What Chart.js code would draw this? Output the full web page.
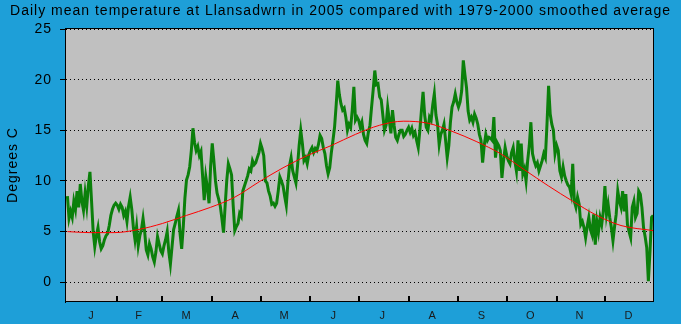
<!DOCTYPE html>
<html>
<head>
<meta charset="utf-8">
<title>Llansadwrn daily mean temperature 2005</title>
<script src="https://cdn.jsdelivr.net/npm/chart.js@4.4.0/dist/chart.umd.min.js"></script>
<style>
  html, body { margin: 0; padding: 0; background: #1e9fd8; }
  #chart { display: block; }
</style>
</head>
<body>
<canvas id="chart" width="681" height="324"></canvas>
<script>
const chartTitle =
  "Daily mean temperature at Llansadwrn in 2005 compared with 1979-2000 smoothed average";
const monthLabels = ["J", "F", "M", "A", "M", "J", "J", "A", "S", "O", "N", "D"];
const monthStarts = [0, 31, 59, 90, 120, 151, 181, 212, 243, 273, 304, 334];
const monthLengths = [31, 28, 31, 30, 31, 30, 31, 31, 30, 31, 30, 31];
const yTicks = [0, 5, 10, 15, 20, 25];

// 2005 daily mean temperature (deg C), 1 Jan .. 31 Dec
const dailyMean = [
  8.5, 6.3, 7.0, 6.4, 8.0, 7.2, 9.0, 7.4, 9.7, 8.0,
  7.1, 8.8, 7.5, 9.5, 10.9, 8.0, 5.0, 3.5, 4.6, 5.4,
  4.0, 3.3, 3.6, 4.2, 4.6, 4.8, 5.6, 6.6, 7.2, 7.6,
  7.8, 7.6, 7.2, 7.7, 7.4, 6.6, 7.0, 6.0, 7.5, 8.4,
  7.2, 5.4, 4.2, 5.5, 3.6, 4.6, 5.2, 6.3, 5.0, 3.2,
  2.7, 3.8, 3.3, 2.5, 2.0, 3.0, 4.5, 3.8,
  3.1, 2.8, 3.6, 4.2, 5.0, 3.0, 1.8, 3.5, 5.2, 5.8,
  6.5, 7.1, 4.8, 3.3, 5.5, 8.3, 10.1, 10.6, 11.4, 13.0,
  15.2, 13.8, 13.0, 13.4, 12.5, 12.9, 10.5, 8.1, 10.4, 9.3, 7.8,
  11.5, 13.7, 12.0, 10.0, 8.8, 8.2, 7.5, 6.3, 4.9, 7.5,
  10.0, 11.7, 11.2, 10.6, 7.6, 5.1, 5.5, 5.8, 6.8, 6.5,
  9.0, 9.5, 10.0, 10.5, 11.2, 11.0, 12.0, 11.6, 11.8, 12.3,
  12.8, 13.7, 13.2, 12.5, 10.0, 9.8, 9.0, 8.5, 7.7, 7.8,
  7.5, 7.8, 9.0, 10.4, 10.0, 9.5, 8.5, 7.6, 9.8, 11.5,
  12.3, 11.0, 10.4, 9.8, 11.5, 13.5, 15.0, 13.7, 12.0, 12.3, 11.7,
  12.6, 13.0, 13.3, 12.8, 13.2, 13.0, 13.6, 14.5, 14.2, 13.3,
  12.7, 11.5, 10.7, 11.3, 12.8, 14.0, 15.3, 17.5, 19.9, 18.5,
  17.6, 17.0, 17.2, 16.3, 15.0, 15.6, 15.3, 17.0, 19.3, 16.0,
  16.3, 16.0, 15.3, 15.8, 14.6, 14.0, 13.7, 14.8, 15.5, 17.3,
  19.0, 20.9, 19.5, 19.6, 18.3, 18.0, 16.5, 15.0, 15.5, 17.3,
  16.0, 14.7, 17.0, 15.5, 14.3, 14.0, 14.6, 15.0, 15.0, 14.4, 14.6,
  15.0, 15.3, 14.8, 15.2, 14.5, 14.8, 14.0, 13.3, 15.0, 17.0,
  18.8, 16.5, 15.3, 15.0, 16.3, 16.0, 17.5, 18.6, 16.5, 15.6,
  13.6, 14.6, 15.0, 15.6, 14.0, 12.3, 13.5, 15.8, 17.3, 17.8, 18.6,
  17.8, 17.3, 17.8, 18.9, 21.9, 20.5, 19.2, 16.9, 16.0, 16.3,
  15.8, 16.6, 16.2, 15.6, 14.6, 14.0, 11.8, 13.5, 14.6, 14.0,
  14.3, 14.2, 14.0, 16.3, 12.3, 13.8, 13.5, 13.0, 10.3, 12.0,
  13.3, 12.5, 12.0, 11.7, 12.8, 13.3, 12.0, 11.0, 14.0, 11.0,
  13.7, 10.7, 11.2, 10.0, 12.0, 13.5, 15.8, 12.7, 12.0, 11.5,
  11.8, 11.0, 11.5, 12.0, 12.7, 12.3, 15.6, 19.4, 16.6, 15.6, 15.0,
  12.7, 13.5, 13.0, 11.0, 10.4, 11.4, 10.5, 10.0, 9.6, 9.4,
  8.7, 11.7, 8.0, 7.4, 8.4, 7.7, 5.7, 6.0, 5.4, 4.4,
  5.5, 6.4, 5.2, 4.7, 6.7, 3.7, 6.0, 5.0, 6.4, 5.7,
  7.0, 9.5, 6.7, 7.7, 6.4, 5.4, 4.1, 5.5, 6.7, 9.0,
  8.0, 7.4, 9.0, 7.0, 8.7, 5.7, 5.0, 4.4, 7.4, 8.0,
  6.4, 6.8, 9.0, 8.7, 7.4, 5.4, 4.5, 3.4, 0.1, 3.0, 6.4, 6.6,
];

// 1979-2000 smoothed average
const avgDays = [0, 14, 29, 44, 59, 74, 89, 104, 119, 134, 149, 164, 179,
  194, 209, 224, 239, 254, 269, 284, 299, 314, 329, 344, 364];
const avgTemps = [5.0, 4.9, 4.9, 5.2, 5.8, 6.6, 7.4, 8.4, 9.9, 11.3, 12.5, 13.5, 14.6,
  15.5, 15.9, 15.7, 14.9, 13.9, 12.7, 11.1, 9.5, 8.0, 6.6, 5.6, 5.1];

const monthMids = monthStarts.map((s, i) => s + monthLengths[i] / 2 - 0.5);

// Background, grey plot box, frame and the little month marks
const chartFrame = {
  id: "chartFrame",
  beforeLayout(chart) {
    chart.ctx.letterSpacing = "1px";
  },
  beforeDraw(chart) {
    const { ctx, chartArea: a } = chart;
    ctx.letterSpacing = "1px";
    ctx.save();
    ctx.fillStyle = "#1e9fd8";
    ctx.fillRect(0, 0, chart.width, chart.height);
    ctx.fillStyle = "#c0c0c0";
    ctx.fillRect(a.left, a.top, a.right - a.left, a.bottom - a.top);
    ctx.restore();
  },
  afterDraw(chart) {
    const { ctx, chartArea: a, scales } = chart;
    ctx.save();
    ctx.strokeStyle = "#000";
    ctx.lineWidth = 2;
    monthStarts.slice(1).forEach((d) => {
      const x = Math.round(scales.x.getPixelForValue(d));
      ctx.beginPath();
      ctx.moveTo(x, a.bottom - 6);
      ctx.lineTo(x, a.bottom);
      ctx.stroke();
    });
    ctx.lineWidth = 1;
    ctx.strokeRect(a.left + 0.5, a.top + 0.5, a.right - a.left - 1, a.bottom - a.top - 1);
    ctx.restore();
  },
};

Chart.defaults.font.family = "Arial, 'Liberation Sans', sans-serif";
Chart.defaults.color = "#000";

new Chart(document.getElementById("chart"), {
  type: "line",
  data: {
    datasets: [
      {
        label: "1979-2000 smoothed average",
        data: avgDays.map((d, i) => ({ x: d, y: avgTemps[i] })),
        borderColor: "#ff0000",
        borderWidth: 1,
        pointRadius: 0,
        cubicInterpolationMode: "monotone",
        order: 0,
      },
      {
        label: "2005",
        data: dailyMean.map((v, i) => ({ x: i, y: v })),
        borderColor: "#0b800b",
        borderWidth: 3,
        pointRadius: 0,
        tension: 0,
        order: 1,
      },
    ],
  },
  options: {
    responsive: false,
    animation: false,
    devicePixelRatio: 1,
    layout: { padding: 0 },
    plugins: {
      legend: { display: false },
      tooltip: { enabled: false },
      title: {
        display: true,
        text: chartTitle,
        color: "#000",
        font: { size: 14, weight: "normal" },
        padding: { top: 3, bottom: 8.2 },
      },
    },
    scales: {
      x: {
        type: "linear",
        min: -1.5,
        max: 364.5,
        afterBuildTicks(scale) {
          scale.ticks = monthMids.map((v) => ({ value: v }));
        },
        afterFit(scale) {
          scale.height = 22;
        },
        grid: { display: false, drawTicks: false },
        border: { display: false },
        ticks: {
          autoSkip: false,
          maxRotation: 0,
          padding: 7,
          color: "#1a1a1a",
          font: { size: 11 },
          callback: (value, index) => monthLabels[index],
        },
      },
      y: {
        min: -1.95,
        max: 25.1,
        afterBuildTicks(scale) {
          scale.ticks = yTicks.map((v) => ({ value: v }));
        },
        afterFit(scale) {
          scale.width = 65;
        },
        grid: { color: "#000", tickColor: "#000", tickLength: 5, tickBorderDash: [] },
        border: { display: true, color: "#000", dash: [1, 3] },
        ticks: { padding: 8, color: "#000", font: { size: 14 } },
        title: {
          display: true,
          text: "Degrees C",
          color: "#000",
          font: { size: 14 },
          padding: { top: 5, bottom: 0 },
        },
      },
      // empty right-hand axis, only keeps the blue margin right of the plot
      yRight: {
        position: "right",
        display: true,
        afterFit(scale) {
          scale.width = 27;
        },
        grid: { display: false, drawTicks: false },
        border: { display: false },
        ticks: { display: false },
      },
    },
  },
  plugins: [chartFrame],
});
</script>
</body>
</html>
